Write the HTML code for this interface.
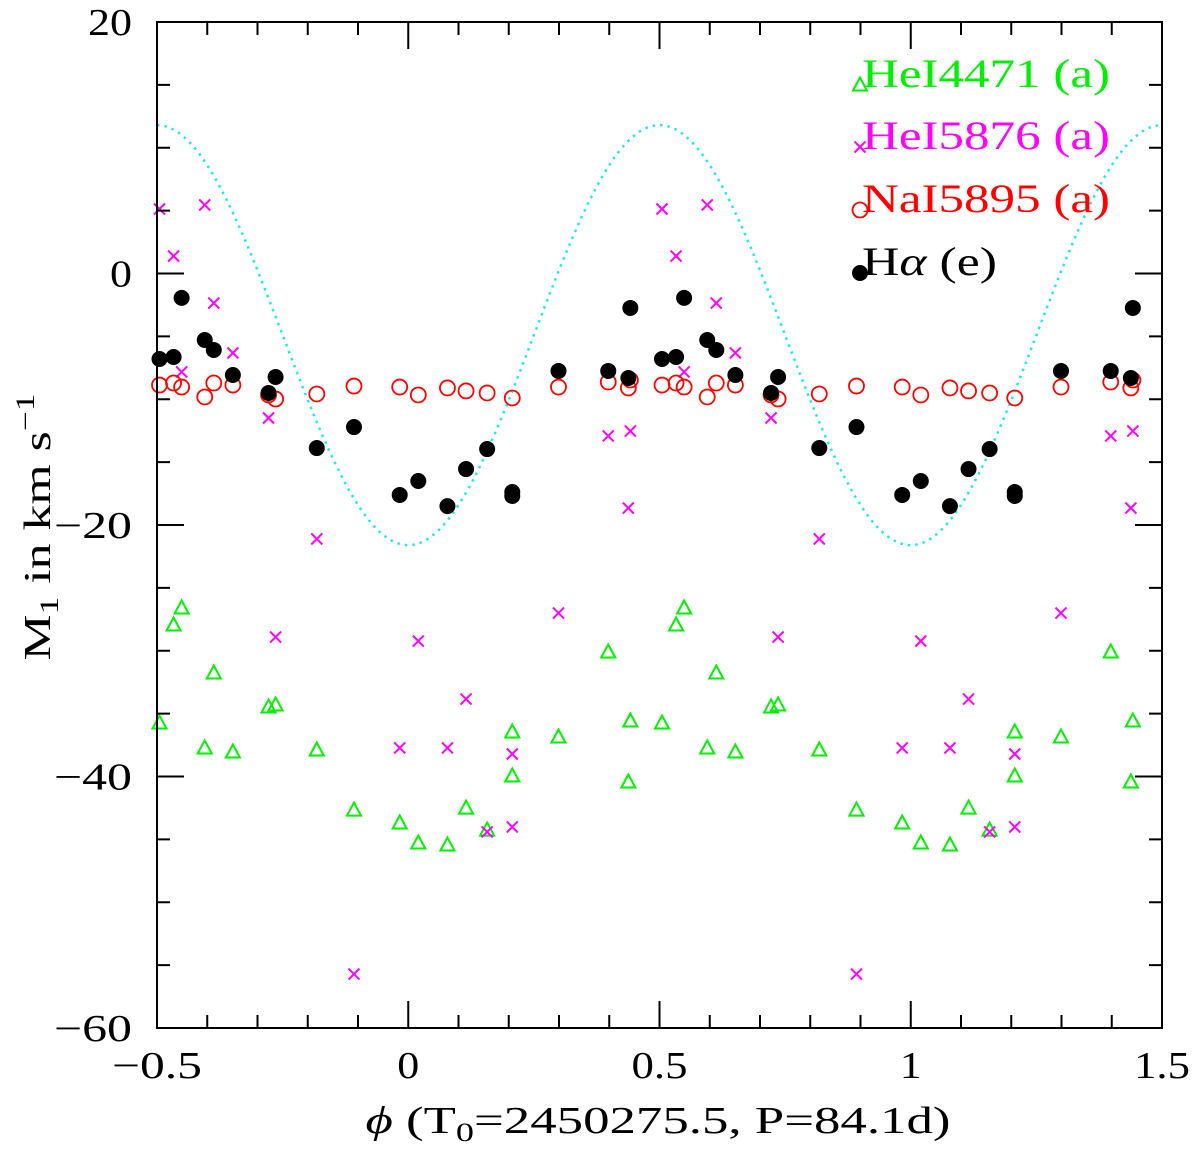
<!DOCTYPE html>
<html><head><meta charset="utf-8">
<style>
html,body{margin:0;padding:0;background:#fff;}
svg{display:block;}
text{font-family:"Liberation Serif",serif;}
</style></head>
<body>
<svg id="chart" width="1200" height="1152" viewBox="0 0 1200 1152" xmlns="http://www.w3.org/2000/svg">
  <g id="curve"></g>
  <g id="marks"></g>
  <g id="axes"></g>
  <g id="legend"></g>
  <text transform="translate(50,527) rotate(-90)" text-anchor="middle" font-size="38" fill="#000" textLength="267" lengthAdjust="spacingAndGlyphs">M<tspan font-size="26" dy="8">1</tspan><tspan dy="-8"> in km s</tspan><tspan font-size="26" dy="-16">−1</tspan></text>
  <text x="658" y="1133" text-anchor="middle" font-size="38" fill="#000" textLength="585" lengthAdjust="spacingAndGlyphs"><tspan font-style="italic">ϕ</tspan> (T<tspan font-size="26" dy="8">0</tspan><tspan dy="-8">=2450275.5, P=84.1d)</tspan></text>
</svg>
<script>
// ---- data (phase in [0,1), velocity km/s) ----
const haPhase   = [0.020,0.078,0.115,0.157,0.207,0.207,0.299,0.398,0.438,0.442,0.505,0.533,0.549,0.595,0.613,0.651,0.722,0.736,0.818,0.892,0.983];
const haVel     = [-16.5,-18.5,-15.55,-13.96,-17.38,-17.69,-7.75,-7.75,-8.31,-2.74,-6.8,-6.64,-1.94,-5.29,-6.08,-8.07,-9.5,-8.23,-13.88,-12.21,-17.61];
const naPhase   = [0.020,0.078,0.115,0.157,0.207,0.299,0.398,0.438,0.442,0.505,0.533,0.549,0.595,0.613,0.651,0.722,0.736,0.818,0.892,0.983];
const naVel     = [-9.66,-9.1,-9.34,-9.5,-9.9,-9.03,-8.63,-9.1,-8.47,-8.87,-8.71,-9.03,-9.82,-8.71,-8.87,-9.66,-9.98,-9.58,-8.95,-9.03];
const he5Phase  = [0.020,0.078,0.115,0.157,0.207,0.207,0.299,0.398,0.438,0.442,0.505,0.533,0.549,0.595,0.613,0.651,0.722,0.736,0.818,0.892,0.983];
const he5Vel    = [-29.23,-37.73,-33.84,-44.41,-38.21,-44.01,-27.0,-12.92,-18.65,-12.53,5.13,1.39,-7.83,5.45,-2.35,-6.32,-11.49,-28.91,-21.11,-55.71,-37.73];
const he4Phase  = [0.020,0.078,0.115,0.157,0.207,0.207,0.299,0.398,0.438,0.442,0.505,0.533,0.549,0.595,0.613,0.651,0.722,0.736,0.818,0.892,0.983];
const he4Vel    = [-45.29,-45.45,-42.51,-44.26,-36.46,-39.96,-36.86,-30.1,-40.44,-35.59,-35.75,-27.95,-26.6,-37.73,-31.77,-38.05,-34.47,-34.31,-37.89,-42.67,-43.7];
const curveMean = -4.9;
const curveAmp  = 16.7;
const xTicks = [-0.5,0,0.5,1,1.5];
const xTickLabels = ["−0.5","0","0.5","1","1.5"];
const yTicks = [20,0,-20,-40,-60];
const yTickLabels = ["20","0","−20","−40","−60"];

// ---- axes ----
const X0=157, X1=1162, Y0=22, Y1=1028;
const xMin=-0.5, xMax=1.5, yMin=-60, yMax=20;
const sx = v => X0 + (v-xMin)/(xMax-xMin)*(X1-X0);
const sy = v => Y1 - (v-yMin)/(yMax-yMin)*(Y1-Y0);
const NS="http://www.w3.org/2000/svg";
function mk(tag, attrs, parent){
  const e=document.createElementNS(NS,tag);
  for(const k in attrs) e.setAttribute(k,attrs[k]);
  parent.appendChild(e); return e;
}
function labelWidth(s){ let w=0; for(const c of s){ w += (c==='.')?12:(c==='−'?34:22); } return w; }
const axes=document.getElementById('axes');
const frame=mk('rect',{x:X0,y:Y0,width:X1-X0,height:Y1-Y0,fill:'none',stroke:'#000','stroke-width':2},axes);


for(let i=0;i<=20;i++){
  const v=xMin+i*0.1; const major=(i%5===0); const L=major?27:13; const x=sx(v);
  const t1=mk('line',{x1:x,x2:x,y1:Y1,y2:Y1-L,stroke:'#000','stroke-width':2},axes);
  
  
  const t2=mk('line',{x1:x,x2:x,y1:Y0,y2:Y0+L,stroke:'#000','stroke-width':2},axes);
  
  
}
for(let i=0;i<=16;i++){
  const v=yMin+i*5; const major=(i%4===0); const L=major?27:13; const y=sy(v);
  const t1=mk('line',{x1:X0,x2:X0+L,y1:y,y2:y,stroke:'#000','stroke-width':2},axes);
  
  
  const t2=mk('line',{x1:X1,x2:X1-L,y1:y,y2:y,stroke:'#000','stroke-width':2},axes);
  
  
}
xTicks.forEach((v,i)=>{
  const s=xTickLabels[i];
  const t=mk('text',{x:sx(v),y:1078,'text-anchor':'middle','font-size':38,fill:'#000',textLength:labelWidth(s),lengthAdjust:'spacingAndGlyphs'},axes);
  t.textContent=s;
  
  
});
yTicks.forEach((v,i)=>{
  const s=yTickLabels[i];
  const t=mk('text',{x:132,y:sy(v)+13,'text-anchor':'end','font-size':38,fill:'#000',textLength:labelWidth(s),lengthAdjust:'spacingAndGlyphs'},axes);
  t.textContent=s;
  
  
});

// ---- curve ----
const cg=document.getElementById('curve');
let d='';
for(let i=0;i<=400;i++){
  const p=xMin+i*(xMax-xMin)/400;
  const v=curveMean-curveAmp*Math.cos(2*Math.PI*p);
  d+=(i?'L':'M')+sx(p).toFixed(2)+','+sy(v).toFixed(2);
}
const cp=mk('path',{d:d,fill:'none',stroke:'#22e6ee','stroke-width':2.5,'stroke-dasharray':'2.5 5'},cg);



// ---- markers ----
const mg=document.getElementById('marks');
function drawMarker(kind,x,y,parent){
  let e;
  if(kind==='dot') e=mk('circle',{cx:x,cy:y,r:8,fill:'#000'},parent);
  else if(kind==='circ') e=mk('circle',{cx:x,cy:y,r:7.5,fill:'none',stroke:'#ff0000','stroke-width':1.8},parent);
  else if(kind==='tri') e=mk('path',{d:`M${x-7},${y+5.5} L${x+7},${y+5.5} L${x},${y-7.5} Z`,fill:'none',stroke:'#00ee00','stroke-width':2},parent);
  else e=mk('path',{d:`M${x-5.5},${y-5.5} L${x+5.5},${y+5.5} M${x-5.5},${y+5.5} L${x+5.5},${y-5.5}`,fill:'none',stroke:'#ff00ff','stroke-width':2},parent);
  return e;
}
function series(ph,vel,kind,name){
  ph.forEach((p,i)=>{
    [-1,0,1].forEach(k=>{
      const q=p+k;
      if(q<xMin-0.001||q>xMax+0.001) return;
      const e=drawMarker(kind,sx(q),sy(vel[i]),mg);
      
      
    });
  });
}
series(he4Phase,he4Vel,'tri','hei4471-point');
series(he5Phase,he5Vel,'x','hei5876-point');
series(naPhase,naVel,'circ','nai5895-point');
series(haPhase,haVel,'dot','halpha-point');

// ---- legend ----
const lg=document.getElementById('legend');
const legendItems=[
  {kind:'tri',label:'HeI4471 (a)',color:'#00ee00',y:85,name:'legend-hei4471'},
  {kind:'x',label:'HeI5876 (a)',color:'#ff00ff',y:147,name:'legend-hei5876'},
  {kind:'circ',label:'NaI5895 (a)',color:'#ff0000',y:210,name:'legend-nai5895'},
];
legendItems.forEach(it=>{
  const m=drawMarker(it.kind,860,it.y,lg);
  
  
  const t=mk('text',{x:862,y:it.y+2,'font-size':40,fill:it.color,textLength:248,lengthAdjust:'spacingAndGlyphs'},lg);
  t.textContent=it.label;
  
  
});
const hm=drawMarker('dot',860,273,lg);


const ht=mk('text',{x:862,y:275,'font-size':40,fill:'#000',textLength:135,lengthAdjust:'spacingAndGlyphs'},lg);
ht.innerHTML='H<tspan font-style="italic">α</tspan> (e)';


</script>
</body></html>
